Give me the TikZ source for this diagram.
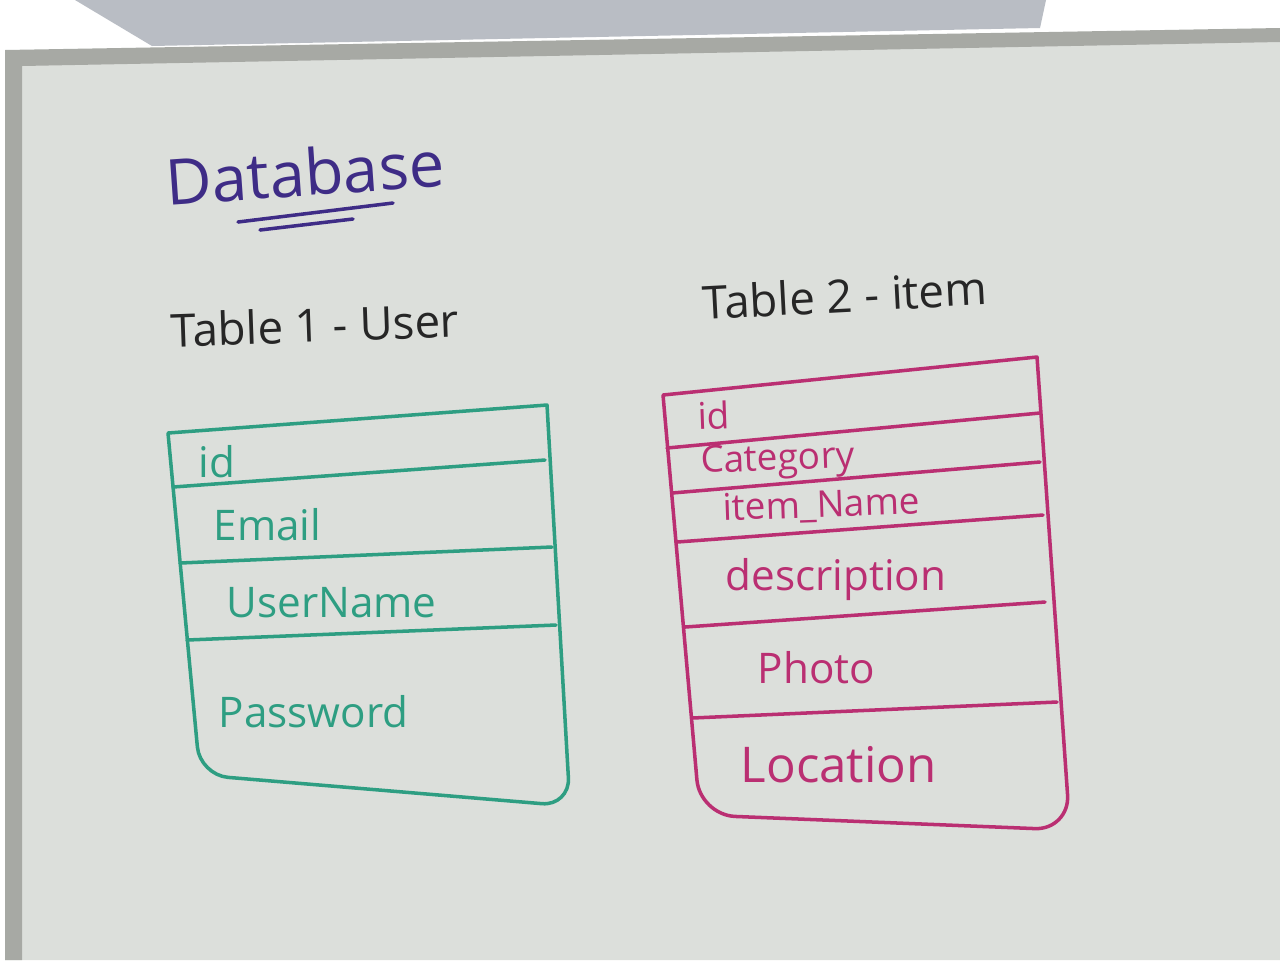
\documentclass[tikz,border=0pt]{standalone}
\usepackage{fontspec}
\setmainfont{Open Sans}
\usepackage{tikz}
\usetikzlibrary{positioning}

\definecolor{ceiling}{HTML}{B9BDC4}
\definecolor{board}{HTML}{DCDFDB}
\definecolor{frame}{HTML}{A7A9A4}
\definecolor{usercol}{HTML}{2E9E82}
\definecolor{itemcol}{HTML}{BA2F72}
\definecolor{titlecol}{HTML}{3E2C86}

\begin{document}
\begin{tikzpicture}[x=0.01cm, y=-0.01cm,
	every node/.style={inner sep=0pt},
	pen/.style={line width=1pt, line cap=round, line join=round},
	userpen/.style={pen, usercol},
	itempen/.style={pen, itemcol},
	usertext/.style={anchor=west, text=usercol, font=\fontsize{12}{14}\selectfont},
	itemtext/.style={anchor=west, text=itemcol, font=\fontsize{12}{14}\selectfont},
	itemsmall/.style={itemtext, font=\fontsize{10.5}{12}\selectfont, rotate=2}]

\useasboundingbox (0,0) rectangle (1280,960);

% background
\fill [white] (0,0) rectangle (1280,960);
\fill [ceiling] (75,0) -- (152,46) -- (1040,28) -- (1046,0) -- cycle;
\fill [board] (5,56) -- (1280,36) -- (1280,960) -- (5,960) -- cycle;
\fill [frame] (5,50) -- (1280,28) -- (1280,42) -- (22,66) -- (22,960) -- (5,960) -- cycle;

% title
\node [text=titlecol, font=\fontsize{18}{20}\selectfont, rotate=4] (title) at (305,172) {Database};
\draw [pen, titlecol] (238,222) -- (393,203);
\draw [pen, titlecol] (260,230) -- (353,219);

% headings
\node [font=\fontsize{13}{15}\selectfont, text=black!85, rotate=2] (userhead) at (315,325) {Table 1 - User};
\node [font=\fontsize{13}{15}\selectfont, text=black!85, rotate=3] (itemhead) at (845,295) {Table 2 - item};

% table 1
\draw [userpen] (168,433) -- (547,405) [rounded corners=8] -- (570,806) -- (200,775) -- (168,433);
\draw [userpen] (173,487) -- (545,460);
\draw [userpen] (180,563) -- (552,547);
\draw [userpen] (187,640) -- (556,625);

\node [usertext] (uid)    at (198,462) {id};
\node [usertext] (uemail) at (213,525) {Email};
\node [usertext] (uname)  at (226,603) {UserName};
\node [usertext] (upass)  at (218,712) {Password};

% table 2
\draw [itempen] (663,395) -- (1037,357) [rounded corners=10] -- (1070,830) -- (700,815) -- (663,395);
\draw [itempen] (667,448) -- (1040,413);
\draw [itempen] (672,493) -- (1040,462);
\draw [itempen] (677,542) -- (1043,515);
\draw [itempen] (685,627) -- (1045,602);
\draw [itempen] (692,718) -- (1057,702);

\node [itemsmall] (iid)   at (697,416) {id};
\node [itemsmall] (icat)  at (700,464) {Category};
\node [itemsmall] (iname) at (722,510) {item\_Name};
\node [itemtext] (idesc)  at (725,580) {description};
\node [itemtext] (iphoto) at (757,668) {Photo};
\node [itemtext, font=\fontsize{14}{16}\selectfont] (iloc) at (740,765) {Location};

\end{tikzpicture}
\end{document}
